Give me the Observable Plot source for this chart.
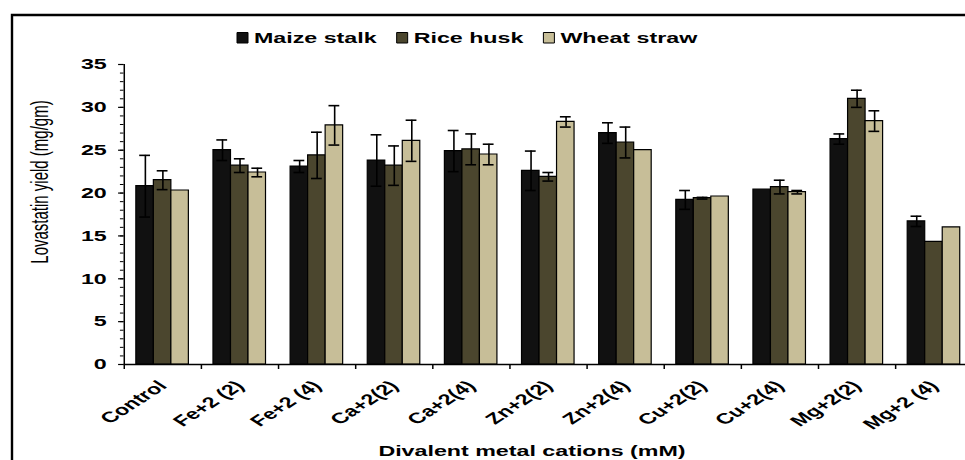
<!DOCTYPE html>
<html><head><meta charset="utf-8">
<script src="https://cdn.jsdelivr.net/npm/d3@7"></script>
<script src="https://cdn.jsdelivr.net/npm/@observablehq/plot@0.6"></script>
<style>
html,body{margin:0;padding:0;background:#fff;overflow:hidden}
#chart svg *{vector-effect:non-scaling-stroke}
</style></head><body><div id="chart"></div>
<script>
// ---- data ----
const categories = ["Control","Fe+2 (2)","Fe+2 (4)","Ca+2(2)","Ca+2(4)","Zn+2(2)","Zn+2(4)","Cu+2(2)","Cu+2(4)","Mg+2(2)","Mg+2 (4)"];
const seriesNames = ["Maize stalk","Rice husk","Wheat straw"];
const seriesColors = ["#111111","#4b462e","#c7be98"];
const maizeStalk = [20.8,25.0,23.1,23.8,24.9,22.6,27.0,19.2,20.4,26.3,16.7];
const maizeErr   = [3.6,1.2,0.7,3.0,2.4,2.3,1.2,1.1,0,0.6,0.6];
const riceHusk   = [21.5,23.2,24.4,23.2,25.1,21.9,25.9,19.4,20.7,31.0,14.3];
const riceErr    = [1.1,0.8,2.7,2.3,1.8,0.5,1.8,0.1,0.8,1.0,0];
const wheatStraw = [20.3,22.4,27.9,26.1,24.5,28.3,25.0,19.6,20.1,28.4,16.0];
const wheatErr   = [0,0.5,2.3,2.4,1.2,0.6,0,0,0.2,1.2,0];
const yTicks = [0,5,10,15,20,25,30,35];
const yLabel = "Lovastatin yield (mg/gm)";
const xLabel = "Divalent metal cations (mM)";

// ---- layout ----
const S = 1.55;              // horizontal stretch of the original figure
const FW = 965, H = 460;
const VW = FW / S;
const G0 = 0.16, BW = 0.227, CAP = 0.07;
const FONT = "'Liberation Sans', Arial, sans-serif";

const values = [maizeStalk, riceHusk, wheatStraw];
const errs = [maizeErr, riceErr, wheatErr];
const rows = categories.flatMap((c, i) => seriesNames.map((s, j) => ({cat: c, i, s, j, v: values[j][i], e: errs[j][i]})));
const errRows = rows.filter(d => d.e > 0);
const cx = d => d.i + G0 + (d.j + 0.5) * BW;
const capRows = errRows.flatMap(d => [{...d, y: d.v - d.e}, {...d, y: d.v + d.e}]);
const boundaries = d3.range(0, categories.length + 1);
const centers = categories.map((c, i) => i + 0.5);

const svg = Plot.plot({
  width: 632, height: H,
  marginLeft: 123.5 / S, marginRight: 632 - 972 / S, marginTop: 64, marginBottom: 96,
  style: {fontFamily: FONT, fontSize: "15px", fontWeight: "bold", color: "#000", background: "#fff"},
  x: {type: "linear", domain: [0, categories.length]},
  y: {domain: [0, 35]},
  color: {domain: seriesNames, range: seriesColors},
  marks: [
    Plot.rectY(rows, {x1: d => d.i + G0 + d.j * BW, x2: d => d.i + G0 + (d.j + 1) * BW, y1: 0, y2: "v", fill: "s", stroke: "#000", strokeWidth: 1.2}),
    Plot.ruleX(errRows, {x: cx, y1: d => d.v - d.e, y2: d => d.v + d.e, stroke: "#000", strokeWidth: 1.6}),
    Plot.ruleY(capRows, {y: "y", x1: d => cx(d) - CAP, x2: d => cx(d) + CAP, stroke: "#000", strokeWidth: 1.6}),
    Plot.ruleX([0], {stroke: "#000", strokeWidth: 1.5}),
    Plot.ruleY([0], {stroke: "#000", strokeWidth: 1.5}),
    Plot.axisY({ticks: d3.range(0, 36), tickSize: 2.3, tickFormat: () => "", label: null, strokeWidth: 1}),
    Plot.axisY({ticks: yTicks, tickSize: 3.5, tickPadding: 7.8, fontSize: 15, fontWeight: "bold", label: null, strokeWidth: 1.2}),
    Plot.axisX({ticks: boundaries, tickSize: 5, tickFormat: () => "", label: null, strokeWidth: 1.5}),
    Plot.axisX({ticks: centers, tickFormat: v => categories[Math.floor(v)], tickSize: 0, tickPadding: 19, tickRotate: -45, fontSize: 15, fontWeight: "bold", label: null})
  ]
});

svg.setAttribute("width", FW);
svg.setAttribute("height", H);
svg.setAttribute("viewBox", `0 0 ${VW} ${H}`);
svg.setAttribute("preserveAspectRatio", "none");
svg.style.maxWidth = "none";
svg.style.width = FW + "px";
svg.style.height = H + "px";
document.getElementById("chart").appendChild(svg);

const root = d3.select(svg);
// outer frame of the figure
root.append("rect").attr("x", 12 / S).attr("y", 15).attr("width", 3000).attr("height", 3000)
  .attr("fill", "none").attr("stroke", "#000").attr("stroke-width", 2.4);

// legend
let lx = 237 / S;
seriesNames.forEach((name, j) => {
  root.append("rect").attr("x", lx).attr("y", 32.5).attr("width", 11 / S).attr("height", 10.5)
    .attr("fill", seriesColors[j]).attr("stroke", "#000").attr("stroke-width", 1);
  const t = root.append("text").attr("x", lx + 17 / S).attr("y", 43).attr("text-anchor", "start")
    .attr("font-family", FONT).attr("font-size", 15).attr("font-weight", "bold").attr("fill", "#000").text(name);
  lx = lx + 17 / S + t.node().getComputedTextLength() + 20 / S;
});

// y axis title
root.append("text").attr("transform", `translate(${42 / S},182) rotate(-90)`)
  .attr("text-anchor", "middle").attr("dominant-baseline", "middle")
  .attr("font-family", FONT).attr("font-size", 15).attr("font-weight", "normal").attr("fill", "#000").text(yLabel);

// x axis title
root.append("text").attr("x", 532 / S).attr("y", 456).attr("text-anchor", "middle")
  .attr("font-family", FONT).attr("font-size", 15).attr("font-weight", "bold").attr("fill", "#000").text(xLabel);
</script></body></html>
